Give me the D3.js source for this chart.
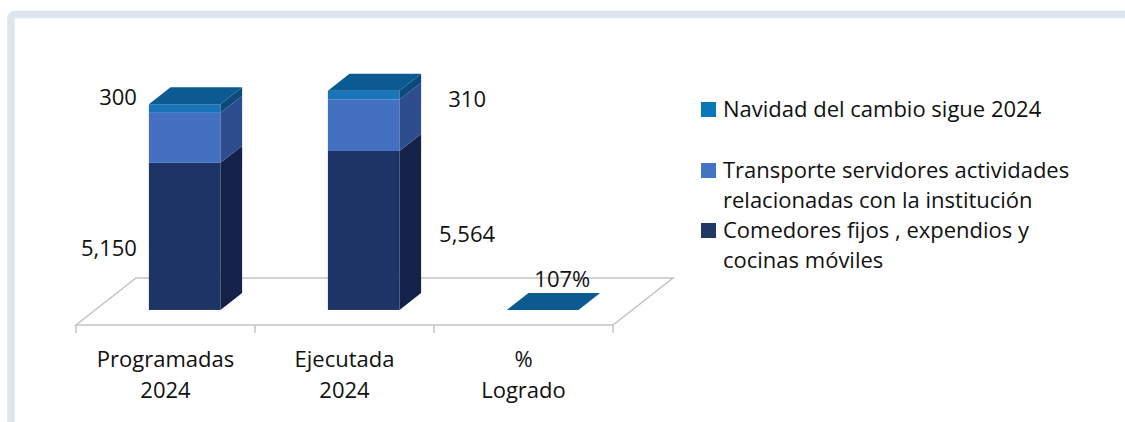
<!DOCTYPE html>
<html>
<head>
<meta charset="utf-8">
<script src="https://cdn.jsdelivr.net/npm/d3@7"></script>
<style>
  body { margin: 0; background: #fff; }
  svg { display: block; font-family: "Open Sans", "Noto Sans", sans-serif; }
</style>
</head>
<body>
<svg width="1125" height="422"></svg>
<script>
// data
var categories = ["Programadas 2024", "Ejecutada 2024", "% Logrado"];
var catLines = [["Programadas", "2024"], ["Ejecutada", "2024"], ["%", "Logrado"]];
var comedores = [5150, 5564, 1.07];   // third one is the 107% achieved
var transporte = [1750, 1800, 0];
var navidad = [300, 310, 0];
var seriesNames = ["Comedores fijos , expendios y cocinas móviles",
                   "Transporte servidores actividades relacionadas con la institución",
                   "Navidad del cambio sigue 2024"];

var svg = d3.select("svg"),
    width = +svg.attr("width"),
    height = +svg.attr("height");

var fontSize = 22;

// colours: front / side / top for each series
var colors = [
  { front: "#1f3466", side: "#14224a", top: "#27407c", legend: "#1f3864" },
  { front: "#4470c2", side: "#2d4d8e", top: "#5580cc", legend: "#4472c4" },
  { front: "#1a74ba", side: "#0c4a7e", top: "#0b5b92", legend: "#0a77b8" }
];

// outer frame
svg.append("rect")
    .attr("x", 11).attr("y", 14.5)
    .attr("width", 1300).attr("height", 600)
    .attr("rx", 4)
    .attr("fill", "none")
    .attr("stroke", "#dee5ee")
    .attr("stroke-width", 7.5);

// faint plot area
svg.append("rect")
    .attr("x", 70).attr("y", 42)
    .attr("width", 620).attr("height", 300)
    .attr("fill", "#fefefe");

/**
 * scales
 */
var floorY = 325, fdx = 60, fdy = -47;
var x = d3.scaleBand().domain(categories).range([76, 613]).padding(0);
var h = d3.scaleLinear().domain([0, 7000]).range([0, 200]);
var depth0 = 0.32, depthW = 0.36;
var barW = x.bandwidth() * 0.4;
var ddx = fdx * depthW, ddy = fdy * depthW;
var baseY = floorY + fdy * depth0;

// floor
var x0f = x.range()[0], x1f = x.range()[1];
var floor = svg.append("g").attr("stroke", "#c3c3c3").attr("stroke-width", 1.5).attr("fill", "none");
floor.append("path")
    .attr("d", "M" + x0f + "," + floorY + "L" + (x0f + fdx) + "," + (floorY + fdy) +
               "L" + (x1f + fdx) + "," + (floorY + fdy) + "L" + x1f + "," + floorY + "Z")
    .attr("fill", "#fff");
var ticks = categories.map(function(c) { return x(c); }).concat([x1f]);
floor.selectAll("line.tick")
    .data(ticks)
    .enter().append("line")
      .attr("x1", function(d) { return d; })
      .attr("x2", function(d) { return d; })
      .attr("y1", floorY)
      .attr("y2", floorY + 8);

// stacked segments
var stackData = categories.map(function(c, i) {
  var vals = [comedores[i], transporte[i], navidad[i]];
  var acc = 0;
  return vals.map(function(v, s) {
    var seg = { cat: c, i: i, s: s, v0: acc, v1: acc + v, v: v };
    acc += v;
    return seg;
  });
});

var bars = svg.append("g").attr("class", "bars");

stackData.forEach(function(segs, i) {
  var bx = x(categories[i]) + (x.bandwidth() - barW) / 2 + fdx * depth0;
  var g = bars.append("g");
  segs.forEach(function(d) {
    var yTop = baseY - h(d.v1), yBot = baseY - h(d.v0);
    var c = colors[d.s];
    if (d.v > 0) {
      g.append("rect")
        .attr("x", bx).attr("y", yTop)
        .attr("width", barW).attr("height", yBot - yTop)
        .attr("fill", c.front);
      g.append("path")
        .attr("d", "M" + (bx + barW) + "," + yTop +
                   "L" + (bx + barW + ddx) + "," + (yTop + ddy) +
                   "L" + (bx + barW + ddx) + "," + (yBot + ddy) +
                   "L" + (bx + barW) + "," + yBot + "Z")
        .attr("fill", c.side);
    }
  });
  // top face on the last segment
  var last = segs[segs.length - 1];
  var yT = baseY - h(last.v1);
  g.append("path")
    .attr("d", "M" + bx + "," + yT + "L" + (bx + barW) + "," + yT +
               "L" + (bx + barW + ddx) + "," + (yT + ddy) +
               "L" + (bx + ddx) + "," + (yT + ddy) + "Z")
    .attr("fill", colors[2].top);
});

/**
 * value labels
 */
var fmt = d3.format(","), pct = d3.format(".0%");
var labels = svg.append("g").attr("font-size", fontSize).attr("fill", "#111");

stackData.forEach(function(segs, i) {
  var bx = x(categories[i]) + (x.bandwidth() - barW) / 2 + fdx * depth0;
  var com = segs[0], nav = segs[2];
  if (i === 2) {
    labels.append("text")
      .attr("x", bx + barW / 2 + ddx - 2)
      .attr("y", baseY - h(nav.v1) + ddy - 14)
      .attr("dy", "0.35em")
      .attr("text-anchor", "middle")
      .text(pct(com.v));
    return;
  }
  var lx = i === 0 ? bx - 12 : bx + barW + ddx + 46;
  var anchor = i === 0 ? "end" : "middle";
  labels.append("text")
    .attr("x", lx)
    .attr("y", baseY - h(nav.v1) + (i === 0 ? -7 : 9))
    .attr("dy", "0.35em")
    .attr("text-anchor", anchor)
    .text(fmt(nav.v));
  labels.append("text")
    .attr("x", lx)
    .attr("y", baseY - h((com.v0 + com.v1) / 2) + (i === 0 ? 12 : 4))
    .attr("dy", "0.35em")
    .attr("text-anchor", anchor)
    .text(fmt(com.v));
});

// category labels
var catG = svg.append("g").attr("font-size", fontSize).attr("fill", "#111").attr("text-anchor", "middle");
categories.forEach(function(c, i) {
  var t = catG.append("text").attr("x", x(c) + x.bandwidth() / 2).attr("y", 367);
  catLines[i].forEach(function(line, k) {
    t.append("tspan").attr("x", x(c) + x.bandwidth() / 2).attr("dy", k === 0 ? 0 : 31).text(line);
  });
});

/**
 * legend
 */
var legendItems = [
  { name: seriesNames[2], color: colors[2].legend, lines: ["Navidad del cambio sigue 2024"], y: 117 },
  { name: seriesNames[1], color: colors[1].legend, lines: ["Transporte servidores actividades", "relacionadas con la institución"], y: 178 },
  { name: seriesNames[0], color: colors[0].legend, lines: ["Comedores fijos , expendios y", "cocinas móviles"], y: 238 }
];
var legend = svg.append("g").attr("font-size", fontSize).attr("fill", "#111");
var li = legend.selectAll("g").data(legendItems).enter().append("g");
li.append("rect")
    .attr("x", 701).attr("y", function(d) { return d.y - 15; })
    .attr("width", 15).attr("height", 15)
    .attr("fill", function(d) { return d.color; });
li.each(function(d) {
  var t = d3.select(this).append("text").attr("x", 723).attr("y", d.y);
  d.lines.forEach(function(line, k) {
    t.append("tspan").attr("x", 723).attr("dy", k === 0 ? 0 : 30).text(line);
  });
});
</script>
</body>
</html>
